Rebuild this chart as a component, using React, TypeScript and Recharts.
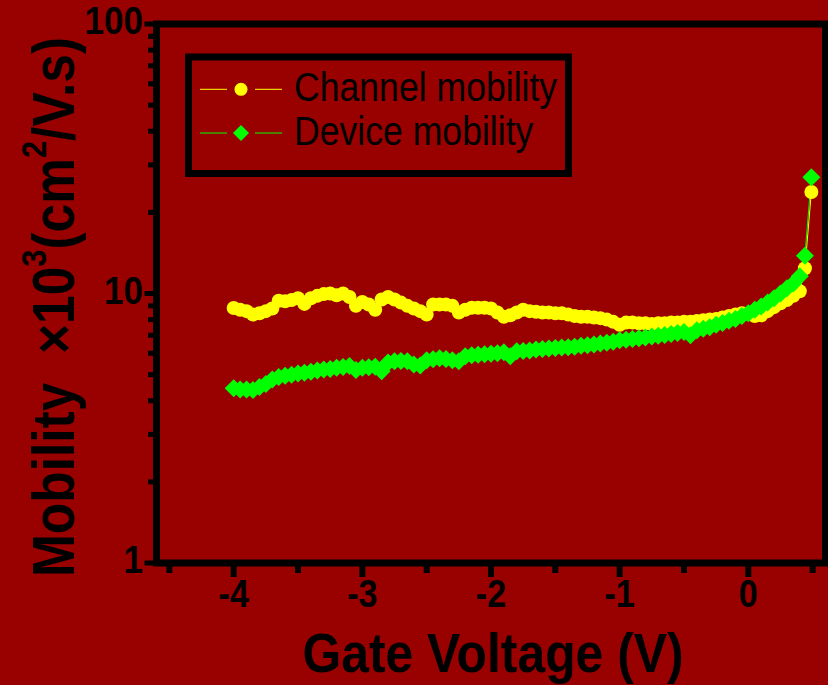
import { LineChart, Line, XAxis, YAxis, ReferenceArea, Legend, Label } from "recharts";

const FONT = "'Liberation Sans', Arial, Helvetica, sans-serif";
const BG = "#990000";

// gate voltage (V)
const voltages = [
  -4, -3.95, -3.9, -3.85, -3.8, -3.75, -3.7, -3.65, -3.6, -3.55,
  -3.5, -3.45, -3.4, -3.35, -3.3, -3.25, -3.2, -3.15, -3.1, -3.05,
  -3, -2.95, -2.9, -2.85, -2.8, -2.75, -2.7, -2.65, -2.6, -2.55,
  -2.5, -2.45, -2.4, -2.35, -2.3, -2.25, -2.2, -2.15, -2.1, -2.05,
  -2, -1.95, -1.9, -1.85, -1.8, -1.75, -1.7, -1.65, -1.6, -1.55,
  -1.5, -1.45, -1.4, -1.35, -1.3, -1.25, -1.2, -1.15, -1.1, -1.05,
  -1, -0.95, -0.9, -0.85, -0.8, -0.75, -0.7, -0.65, -0.6, -0.55,
  -0.5, -0.45, -0.4, -0.35, -0.3, -0.25, -0.2, -0.15, -0.1, -0.05,
  0, 0.05, 0.1, 0.15, 0.2, 0.25, 0.3, 0.35, 0.4, 0.44, 0.49,
];

// mobility x10^3 cm2/V.s
const channelMobility = [
  8.84, 8.7, 8.6, 8.35, 8.45, 8.6, 8.8, 9.4, 9.35, 9.45,
  9.6, 9.15, 9.6, 9.8, 9.95, 10.0, 9.85, 10.0, 9.7, 9.0,
  9.3, 9.1, 8.7, 9.5, 9.7, 9.5, 9.25, 9.0, 8.8, 8.6,
  8.35, 9.1, 9.1, 9.1, 9.0, 8.5, 8.7, 8.85, 8.85, 8.85,
  8.8, 8.5, 8.2, 8.3, 8.5, 8.7, 8.6, 8.55, 8.5, 8.5,
  8.45, 8.45, 8.35, 8.25, 8.2, 8.2, 8.15, 8.1, 8.0, 7.85,
  7.65, 7.8, 7.8, 7.75, 7.75, 7.7, 7.75, 7.75, 7.8, 7.8,
  7.85, 7.85, 7.9, 7.95, 8.0, 8.05, 8.15, 8.25, 8.35, 8.45,
  8.4, 8.25, 8.3, 8.6, 8.9, 9.2, 9.45, 9.8, 10.2, 12.4, 23.8,
];

const deviceMobility = [
  4.45, 4.4, 4.4, 4.38, 4.5, 4.62, 4.8, 4.9, 4.95, 5.0,
  5.05, 5.08, 5.12, 5.18, 5.22, 5.25, 5.3, 5.34, 5.38, 5.2,
  5.3, 5.33, 5.35, 5.15, 5.55, 5.6, 5.62, 5.6, 5.45, 5.4,
  5.65, 5.7, 5.75, 5.72, 5.65, 5.6, 5.85, 5.9, 5.92, 5.95,
  5.98, 6.0, 6.05, 5.85, 6.1, 6.12, 6.15, 6.2, 6.22, 6.25,
  6.28, 6.3, 6.32, 6.35, 6.4, 6.43, 6.47, 6.52, 6.57, 6.62,
  6.7, 6.73, 6.78, 6.82, 6.86, 6.92, 6.97, 7.02, 7.08, 7.14,
  7.2, 7.0, 7.3, 7.4, 7.5, 7.65, 7.78, 7.92, 8.05, 8.25,
  8.45, 8.7, 8.95, 9.25, 9.6, 10.0, 10.45, 10.9, 11.6, 13.8, 27.0,
];

const xTicks = [-4.5, -4, -3.5, -3, -2.5, -2, -1.5, -1, -0.5, 0, 0.5];
const xLabels = [-4, -3, -2, -1, 0];
const yTicks = [1, 2, 3, 4, 5, 6, 7, 8, 9, 10, 20, 30, 40, 50, 60, 70, 80, 90, 100];
const yLabels = [1, 10, 100];

const data = voltages.map((v, i) => ({
  v,
  channel: channelMobility[i],
  device: deviceMobility[i],
}));

const XTick = ({ x, y, payload }: any) => {
  const major = xLabels.includes(payload.value);
  return (
    <g>
      <line x1={x} x2={x} y1={y} y2={y + (major ? 14 : 10)} stroke="#000" strokeWidth={6} />
      {major && (
        <text
          transform={`translate(${x},${y + 44}) scale(0.9,1)`}
          textAnchor="middle"
          fontSize={38}
          fontWeight="bold"
          fontFamily={FONT}
          fill="#000"
        >
          {payload.value}
        </text>
      )}
    </g>
  );
};

const YTick = ({ x, y, payload }: any) => {
  const major = yLabels.includes(payload.value);
  return (
    <g>
      <line x1={x} x2={x - (major ? 12 : 8.5)} y1={y} y2={y} stroke="#000" strokeWidth={5} />
      {major && (
        <text
          transform={`translate(${x - 13.5},${y + 10}) scale(0.9,1)`}
          textAnchor="end"
          fontSize={39}
          fontWeight="bold"
          fontFamily={FONT}
          fill="#000"
        >
          {payload.value}
        </text>
      )}
    </g>
  );
};

const Circle = (props: any) => {
  const { cx, cy, key } = props;
  return <circle key={key} cx={cx} cy={cy} r={7} fill="#ffff00" />;
};

const Diamond = (props: any) => {
  const { cx, cy, key } = props;
  const s = 9;
  return (
    <polygon
      key={key}
      points={`${cx},${cy - s} ${cx + s},${cy} ${cx},${cy + s} ${cx - s},${cy}`}
      fill="#00ff00"
    />
  );
};

const LegendBox = ({ payload }: any) => {
  const rows = payload || [];
  return (
    <svg width={400} height={135}>
      <rect x={8.5} y={9} width={380} height={116.5} fill="none" stroke="#000" strokeWidth={7} />
      {rows.map((p: any, i: number) => {
        const cy = 41.3 + i * 43.7;
        return (
          <g key={p.value}>
            <line x1={20} x2={47} y1={cy} y2={cy} stroke={p.color} strokeWidth={1} />
            <line x1={75} x2={102} y1={cy} y2={cy} stroke={p.color} strokeWidth={1} />
            {p.dataKey === "channel" ? (
              <circle cx={61} cy={cy} r={6.5} fill="#ffff00" />
            ) : (
              <polygon
                points={`61,${cy - 8} 69,${cy} 61,${cy + 8} 53,${cy}`}
                fill="#00ff00"
              />
            )}
            <text
              transform={`translate(114,${cy + 11.5}) scale(0.89,1)`}
              fontSize={40}
              fontFamily={FONT}
              fill="#000"
            >
              {p.value}
            </text>
          </g>
        );
      })}
    </svg>
  );
};

const YTitle = () => (
  <text
    transform="translate(74,307) rotate(-90) scale(0.88,1)"
    textAnchor="middle"
    fontSize={58.5}
    fontWeight="bold"
    fontFamily={FONT}
    fill="#000"
    style={{ whiteSpace: "pre" }}
  >
    {"Mobility  ×10"}
    <tspan dy={-28} fontSize={35}>3</tspan>
    <tspan dy={28}>(cm</tspan>
    <tspan dy={-28} fontSize={35}>2</tspan>
    <tspan dy={28}>/V.s)</tspan>
  </text>
);

const XTitle = () => (
  <text
    transform="translate(493,672) scale(0.89,1)"
    textAnchor="middle"
    fontSize={56}
    fontWeight="bold"
    fontFamily={FONT}
    fill="#000"
  >
    Gate Voltage (V)
  </text>
);

export default function App() {
  return (
    <div style={{ position: "absolute", left: 0, top: 0, width: 828, height: 685, background: BG }}>
      <LineChart
        width={828}
        height={685}
        data={data}
        margin={{ top: 24, right: 2.5, bottom: 0, left: 0 }}
        style={{ background: BG }}
      >
        <XAxis
          dataKey="v"
          type="number"
          domain={[-4.6, 0.6]}
          ticks={xTicks}
          interval={0}
          height={122}
          axisLine={false}
          tickLine={false}
          tickSize={0}
          tickMargin={0}
          tick={<XTick />}
        >
          <Label content={<XTitle />} />
        </XAxis>
        <YAxis
          type="number"
          scale="log"
          domain={[1, 100]}
          ticks={yTicks}
          interval={0}
          width={156.5}
          axisLine={false}
          tickLine={false}
          tickSize={0}
          tickMargin={0}
          tick={<YTick />}
        >
          <Label content={<YTitle />} />
        </YAxis>
        <ReferenceArea
          x1={-4.6}
          x2={0.6}
          y1={1}
          y2={100}
          fill="none"
          stroke="#000"
          strokeWidth={7}
        />
        <Legend
          layout="horizontal"
          verticalAlign="middle"
          align="center"
          wrapperStyle={{ position: "absolute", left: 180, top: 48, width: 400, height: 135 }}
          content={<LegendBox />}
        />
        <Line
          dataKey="channel"
          name="Channel mobility"
          stroke="#ffff00"
          strokeWidth={1}
          dot={Circle}
          isAnimationActive={false}
        />
        <Line
          dataKey="device"
          name="Device mobility"
          stroke="#00ff00"
          strokeWidth={1}
          dot={Diamond}
          isAnimationActive={false}
        />
      </LineChart>
    </div>
  );
}
